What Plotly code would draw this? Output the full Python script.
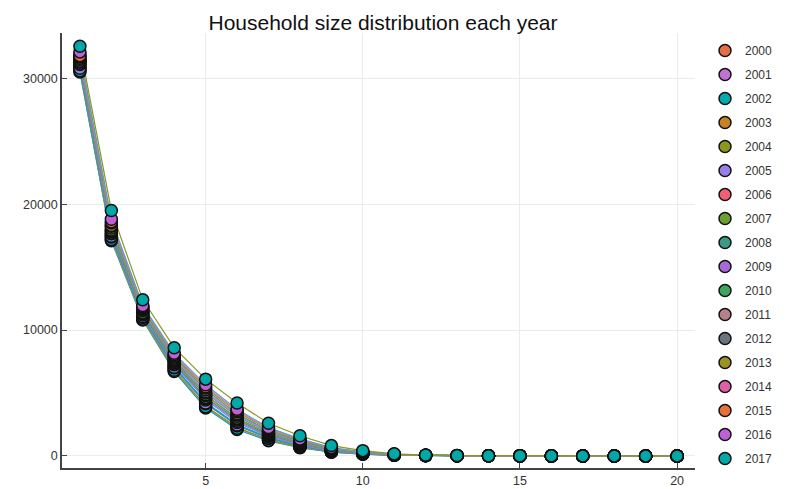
import plotly.graph_objects as go

# Household size (number of persons) on the x axis
sizes = list(range(1, 21))
years = list(range(2000, 2018))

# Number of households of each size, one list per year
h2000 = [30500, 17100, 10800, 6700, 3800, 2100, 1200, 650, 300, 140, 55, 22, 10, 5, 3, 2, 1, 1, 0, 0]
h2001 = [30700, 17250, 10900, 6850, 3950, 2250, 1300, 700, 320, 150, 60, 24, 11, 5, 3, 2, 1, 1, 0, 0]
h2002 = [30600, 17200, 10850, 6800, 3900, 2200, 1250, 680, 310, 145, 58, 23, 11, 5, 3, 2, 1, 1, 0, 0]
h2003 = [30900, 17400, 11000, 7000, 4150, 2400, 1400, 760, 350, 165, 65, 26, 12, 6, 3, 2, 1, 1, 1, 0]
h2004 = [31000, 17500, 11100, 7100, 4250, 2500, 1450, 800, 370, 175, 70, 28, 13, 6, 3, 2, 1, 1, 1, 0]
h2005 = [30800, 17450, 11050, 7050, 4200, 2450, 1420, 780, 360, 170, 68, 27, 12, 6, 3, 2, 1, 1, 1, 0]
h2006 = [31100, 17650, 11200, 7250, 4450, 2650, 1550, 860, 400, 190, 75, 30, 14, 7, 4, 2, 1, 1, 1, 0]
h2007 = [31200, 17700, 11300, 7300, 4550, 2750, 1600, 900, 420, 200, 80, 32, 15, 7, 4, 2, 1, 1, 1, 0]
h2008 = [31300, 17800, 11350, 7400, 4650, 2850, 1680, 950, 450, 215, 85, 34, 16, 8, 4, 2, 1, 1, 1, 1]
h2009 = [31400, 17900, 11450, 7500, 4800, 2950, 1750, 1000, 480, 230, 92, 37, 17, 8, 4, 2, 1, 1, 1, 1]
h2010 = [31350, 17950, 11400, 7550, 4850, 3000, 1780, 1020, 490, 235, 95, 38, 17, 8, 4, 2, 1, 1, 1, 1]
h2011 = [31500, 18100, 11550, 7650, 5000, 3150, 1870, 1080, 520, 250, 100, 40, 18, 9, 4, 2, 1, 1, 1, 1]
h2012 = [31600, 18250, 11600, 7750, 5100, 3250, 1950, 1130, 550, 265, 106, 43, 19, 9, 5, 3, 2, 1, 1, 1]
h2013 = [31700, 18300, 11700, 7850, 5250, 3350, 2000, 1180, 570, 280, 112, 45, 20, 10, 5, 3, 2, 1, 1, 1]
h2014 = [31900, 18500, 11800, 7950, 5400, 3500, 2100, 1240, 600, 295, 118, 48, 21, 10, 5, 3, 2, 1, 1, 1]
h2015 = [31800, 18600, 11850, 8050, 5500, 3600, 2180, 1300, 630, 310, 125, 50, 22, 11, 5, 3, 2, 1, 1, 1]
h2016 = [32100, 18800, 11950, 8150, 5650, 3700, 2250, 1350, 660, 330, 132, 53, 24, 12, 6, 3, 2, 1, 1, 1]
h2017 = [32550, 19500, 12400, 8600, 6100, 4200, 2600, 1600, 820, 420, 170, 70, 32, 15, 7, 4, 2, 1, 1, 1]

counts = [h2000, h2001, h2002, h2003, h2004, h2005, h2006, h2007, h2008,
          h2009, h2010, h2011, h2012, h2013, h2014, h2015, h2016, h2017]

# Line colours and marker colours alternate through the same palette
line_colors = ["#009AFA", "#3EA44E", "#AC8E18", "#ED5E93", "#00A98D", "#00A9CD",
               "#618DF6", "#DD65B6", "#00A6A0", "#D07A5C", "#6E9B3A", "#5D8FC8",
               "#C47EC0", "#45A36E", "#9A8A3E", "#E37A8C", "#4E9FD6", "#8E971D"]
marker_colors = ["#E36F47", "#C371D2", "#00AAAE", "#C68225", "#8E971D", "#9B7FE9",
                 "#F05F73", "#6C9F33", "#3A9B8A", "#A66BD6", "#3EA45E", "#B88088",
                 "#6A7380", "#9C9328", "#E060A8", "#E8703A", "#C060D8", "#00A8A8"]

fig = go.Figure()

for yr, vals, lc in zip(years, counts, line_colors):
    fig.add_trace(go.Scatter(
        x=sizes, y=vals, mode="lines",
        line=dict(color=lc, width=1.2),
        showlegend=False, hoverinfo="skip",
    ))

for i, (yr, vals, mc) in enumerate(zip(years, counts, marker_colors)):
    fig.add_trace(go.Scatter(
        x=sizes, y=vals, mode="markers", name=str(yr),
        legendgroup=f"g{i}",
        marker=dict(color=mc, size=12, line=dict(color="#111111", width=1.5)),
    ))

font_family = "Liberation Sans, Arial, Helvetica, sans-serif"

fig.update_layout(
    width=788, height=489,
    paper_bgcolor="white", plot_bgcolor="white",
    margin=dict(l=62, r=93, t=33, b=21),
    title=dict(text="Household size distribution each year",
               x=(62 + 704) / 2 / 788, xanchor="center",
               y=1 - 23 / 489, yanchor="middle",
               font=dict(family=font_family, size=21, color="#111111")),
    font=dict(family=font_family, size=12, color="#333333"),
    legend=dict(
        xref="container", yref="container",
        x=705 / 788, xanchor="left",
        y=1 - 36 / 489, yanchor="top",
        traceorder="grouped", tracegroupgap=5,
        maxheight=480,
        font=dict(size=12, color="#333333"),
        bgcolor="rgba(0,0,0,0)", borderwidth=0,
        itemsizing="trace",
    ),
    showlegend=True,
)

fig.update_xaxes(
    range=[0.43, 20.57],
    tickvals=[5, 10, 15, 20],
    automargin=False,
    showgrid=True, gridcolor="#ebebeb", gridwidth=1,
    zeroline=False,
    showline=True, linecolor="#444444", linewidth=1.5,
    ticks="inside", ticklen=5, tickcolor="#444444",
    tickfont=dict(size=12.5, color="#333333"),
)
fig.update_yaxes(
    range=[-960, 33600],
    tickvals=[0, 10000, 20000, 30000], tickformat="d",
    automargin=False,
    showgrid=True, gridcolor="#ebebeb", gridwidth=1,
    zeroline=False,
    showline=True, linecolor="#444444", linewidth=1.5,
    ticks="inside", ticklen=5, tickcolor="#444444",
    tickfont=dict(size=12.5, color="#333333"),
)

fig.write_html("out.html")
